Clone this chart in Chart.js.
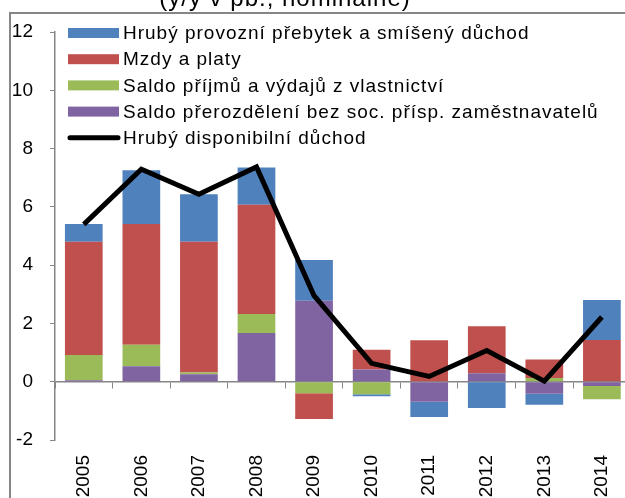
<!DOCTYPE html>
<html>
<head>
<meta charset="utf-8">
<script src="https://cdn.jsdelivr.net/npm/chart.js@4.4.1/dist/chart.umd.min.js"></script>
<style>
    html, body { margin: 0; padding: 0; background: #fff; overflow: hidden; }
    #wrap { position: relative; width: 640px; height: 498px; }
</style>
</head>
<body>
<div id="wrap"><canvas id="myChart" width="640" height="498"></canvas></div>
<script>
// Data
const years = ['2005', '2006', '2007', '2008', '2009', '2010', '2011', '2012', '2013', '2014'];
const provozniPrebytek = [0.61, 1.85, 1.63, 1.28, 1.40, -0.07, -0.52, -0.90, -0.38, 1.37];
const mzdyPlaty = [3.88, 4.14, 4.48, 3.75, -0.88, 0.68, 1.42, 1.61, 0.63, 1.43];
const saldoPrijmu = [0.87, 0.74, 0.06, 0.65, -0.40, -0.43, 0, 0, 0.13, -0.45];
const saldoPrerozdeleni = [0.05, 0.53, 0.26, 1.67, 2.78, 0.42, -0.69, 0.29, -0.41, -0.15];
const disponibilniDuchod = [5.40, 7.29, 6.43, 7.37, 2.95, 0.63, 0.18, 1.07, 0.02, 2.22];
const yTicks = [-2, 0, 2, 4, 6, 8, 10, 12];

const FONT = '"Liberation Sans", Arial, sans-serif';
const GRAY = '#868686';

// legend order as in the picture (dataset order is the stacking order)
const legendOrder = [3, 2, 1, 0, 4];

// Legend, title and outer frame
const decorPlugin = {
    id: 'decor',
    afterDraw(chart) {
        const ctx = chart.ctx;
        ctx.save();
        // outer frame
        ctx.strokeStyle = GRAY;
        ctx.lineWidth = 2;
        ctx.strokeRect(10, 13, 700, 600);

        // cut-off title
        ctx.fillStyle = '#000';
        ctx.font = '24px ' + FONT;
        ctx.letterSpacing = '1px';
        ctx.textAlign = 'center';
        ctx.textBaseline = 'alphabetic';
        ctx.fillText('(y/y v pb., nominálně)', 285, 6);

        // legend
        ctx.font = '19px ' + FONT;
        ctx.textAlign = 'left';
        ctx.textBaseline = 'middle';
        legendOrder.forEach((di, i) => {
            const ds = chart.data.datasets[di];
            const y = 33 + i * 26.2;
            if (ds.type === 'line') {
                ctx.strokeStyle = ds.borderColor;
                ctx.lineWidth = 5;
                ctx.lineCap = 'round';
                ctx.beginPath();
                ctx.moveTo(70, y);
                ctx.lineTo(118, y);
                ctx.stroke();
            } else {
                ctx.fillStyle = ds.backgroundColor;
                ctx.fillRect(68, y - 5, 51, 10);
            }
            ctx.fillStyle = '#000';
            ctx.fillText(ds.label, 123, y + 1);
        });
        ctx.restore();
    }
};

const ctx = document.getElementById('myChart').getContext('2d');
new Chart(ctx, {
    data: {
        labels: years,
        datasets: [
            { type: 'bar', label: 'Saldo přerozdělení bez soc. přísp. zaměstnavatelů', data: saldoPrerozdeleni, backgroundColor: '#8064A2', order: 1 },
            { type: 'bar', label: 'Saldo příjmů a výdajů z vlastnictví', data: saldoPrijmu, backgroundColor: '#9BBB59', order: 1 },
            { type: 'bar', label: 'Mzdy a platy', data: mzdyPlaty, backgroundColor: '#C0504D', order: 1 },
            { type: 'bar', label: 'Hrubý provozní přebytek a smíšený důchod', data: provozniPrebytek, backgroundColor: '#4F81BD', order: 1 },
            {
                type: 'line', label: 'Hrubý disponibilní důchod', data: disponibilniDuchod,
                borderColor: '#000', backgroundColor: '#000', borderWidth: 5,
                pointRadius: 0, tension: 0, stack: 'line', order: 0
            }
        ]
    },
    options: {
        responsive: false,
        devicePixelRatio: 1,
        animation: false,
        layout: {
            padding: { left: 10, right: 6, top: 32, bottom: 0 }
        },
        datasets: {
            bar: { categoryPercentage: 1, barPercentage: 0.655, borderWidth: 0 }
        },
        plugins: {
            legend: { display: false },
            title: { display: false },
            tooltip: { enabled: false }
        },
        scales: {
            x: {
                stacked: true,
                ticks: {
                    minRotation: 90,
                    maxRotation: 90,
                    padding: 15,
                    color: '#000',
                    font: { family: FONT, size: 19 }
                },
                grid: { display: false, drawTicks: false },
                border: { display: false },
                afterFit: function (scale) { scale.height = 58; }
            },
            x2: {
                type: 'category',
                position: { y: 0 },
                offset: true,
                ticks: { display: false },
                grid: { offset: true, drawOnChartArea: false, drawTicks: true, tickLength: 6, color: GRAY },
                border: { display: true, color: GRAY, width: 1.5 }
            },
            y: {
                stacked: true,
                min: -2,
                max: 12,
                afterBuildTicks: function (scale) {
                    scale.ticks = yTicks.map(v => ({ value: v }));
                },
                ticks: {
                    padding: 17,
                    color: '#000',
                    font: { family: FONT, size: 19 }
                },
                grid: { drawOnChartArea: false, drawTicks: true, tickLength: 5, color: GRAY },
                border: { display: true, color: GRAY, width: 1.5 },
                afterFit: function (scale) { scale.width = 45; }
            }
        }
    },
    plugins: [decorPlugin]
});
</script>
</body>
</html>
